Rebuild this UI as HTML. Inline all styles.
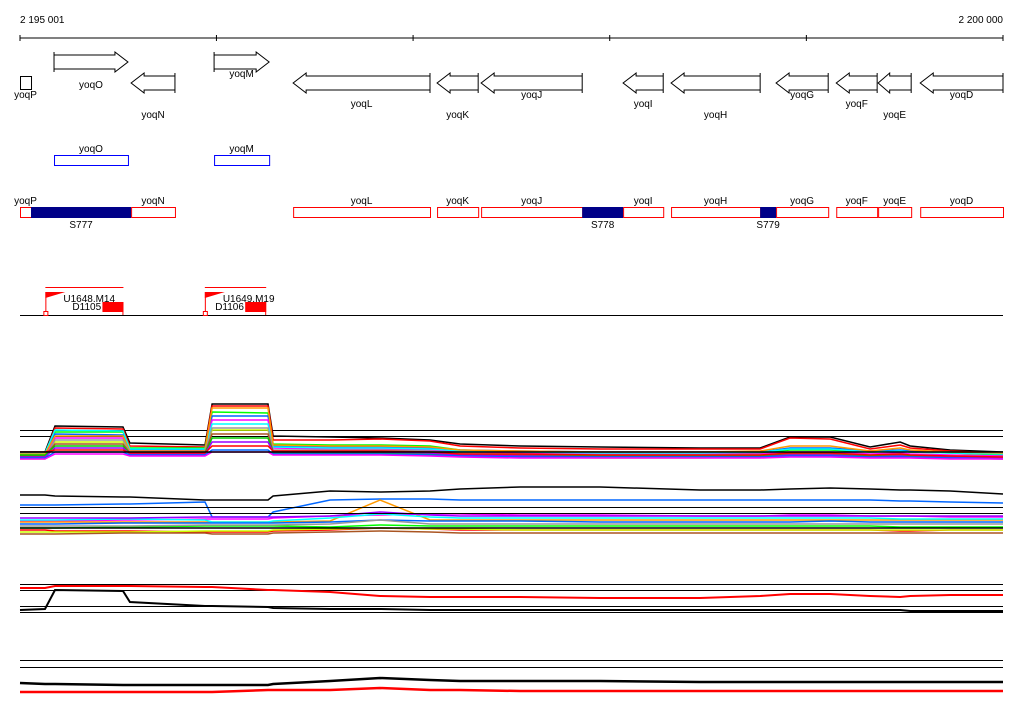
<!DOCTYPE html>
<html><head><meta charset="utf-8">
<style>
body{margin:0;background:#fff;}
svg{display:block;font-family:"Liberation Sans",sans-serif;font-size:10px;}
</style></head>
<body>
<svg id="c" width="1024" height="714" viewBox="0 0 1024 714">
<text x="20" y="23">2 195 001</text>
<text x="1003" y="23" text-anchor="end">2 200 000</text>
<g id="axis"></g>
<g id="genes"></g>
<g id="boxes"></g>
<g id="probes"></g>
<g id="profiles"></g>
</svg>
<script>
const NS="http://www.w3.org/2000/svg";
const START=2195001, END=2200000, X0=20, X1=1003;
const ticks=[2195001,2196000,2197000,2198000,2199000,2200000];
const geneNames=["yoqP","yoqO","yoqN","yoqM","yoqL","yoqK","yoqJ","yoqI","yoqH","yoqG","yoqF","yoqE","yoqD"];
const geneStart=[2195001,2195174,2195566,2195988,2196390,2197122,2197346,2198068,2198312,2198846,2199152,2199365,2199579];
const geneEnd=[2195057,2195550,2195789,2196268,2197086,2197331,2197860,2198272,2198765,2199111,2199360,2199533,2200000];
const geneStrand=[0,1,-1,1,-1,-1,-1,-1,-1,-1,-1,-1,-1];
const geneLabelY=[98,88,118,77,107,118,98,107,118,98,107,118,98];
const blueNames=["yoqO","yoqM"];
const redNames=["yoqP","yoqN","yoqL","yoqK","yoqJ","yoqI","yoqH","yoqG","yoqF","yoqE","yoqD"];
const segNames=["S777","S778","S779"];
const segStart=[2195057,2197860,2198765];
const segEnd=[2195566,2198068,2198846];
const pos=[2195001,2195128,2195179,2195525,2195560,2195942,2195978,2196262,2196288,2196578,2196832,2197086,2197239,2197544,2197951,2198459,2198765,2198917,2199121,2199324,2199477,2199528,2199731,2200000];
const band1=[
["#000",[8,8,34,33,17,15,56,56,24,23,22,20,16,14,13,12,12,23,23,13,18,14,10,8]],
["#f00",[6,6,32,31,14,13,54,54,20,20,21,19,14,12,11,11,11,22,21,11,15,12,9,7]],
["#0f0",[4,5,28,28,12,12,48,47,16,15,15,14,10,8,6,6,7,10,10,8,9,8,7,5]],
["#06f",[5,5,26,25,10,10,44,44,14,13,13,12,10,9,8,8,8,12,12,9,10,9,8,6]],
["#f0f",[3,3,22,22,9,9,40,40,12,11,11,10,8,7,6,6,6,8,8,6,7,6,5,4]],
["#0ff",[7,7,30,29,11,11,36,36,13,12,12,11,9,8,7,7,8,11,11,8,9,8,7,6]],
["#cf0",[1,1,18,18,6,6,30,30,9,9,9,8,5,3,2,2,3,4,4,3,4,3,2,1]],
["#f90",[6,6,24,24,9,9,52,52,15,14,14,13,10,9,8,8,9,14,14,9,12,10,8,7]],
["#999",[2,2,20,20,8,8,32,32,10,10,10,9,7,6,5,5,5,7,7,5,6,5,4,3]],
["#a52",[4,4,16,16,7,7,26,26,8,8,8,7,6,5,4,4,4,6,6,4,5,4,3,2]],
["#0c0",[5,5,14,14,6,6,22,22,7,7,7,6,5,4,4,4,4,5,5,4,4,4,3,2]],
["#90f",[3,3,12,12,6,6,18,18,8,8,8,7,5,4,3,3,3,5,5,3,4,3,3,2]],
["#f00",[8,8,10,10,7,7,14,14,9,9,9,8,6,6,5,5,5,7,7,5,6,5,4,3]],
["#06f",[2,2,8,8,5,5,10,10,6,6,6,5,4,3,3,3,3,4,4,3,3,3,2,1]],
["#f0f",[1,1,6,6,4,4,8,8,5,5,5,4,3,2,2,2,2,3,3,2,2,2,1,1]]];
const band2=[
["#000",[45,45,44,43,43,40,40,40,44,49,48,49,51,53,53,50,50,51,52,51,50,50,49,46]],
["#06f",[35,35,35,36,36,38,23,23,28,40,41,41,40,40,40,40,40,40,40,40,39,39,38,37]],
["#f0f",[19,19,19,20,20,21,21,21,22,24,25,26,26,25,25,24,24,25,25,24,24,24,23,23]],
["#f90",[18,18,18,18,18,18,18,18,18,19,40,20,20,20,20,20,20,20,20,20,20,20,20,20]],
["#0ff",[20,20,20,21,21,20,18,18,19,22,26,23,22,22,22,22,22,22,22,22,21,21,21,21]],
["#06f",[16,16,16,17,17,17,17,17,17,18,20,19,19,19,18,18,18,18,19,18,18,18,18,18]],
["#f00",[10,10,9,9,9,8,8,8,9,10,12,11,10,10,10,10,10,10,10,10,9,9,10,10]],
["#0f0",[12,12,12,13,13,14,14,14,14,13,15,14,14,14,14,14,14,14,14,14,13,13,13,13]],
["#999",[14,14,14,14,14,15,15,15,15,16,20,16,16,16,16,16,16,16,16,16,16,16,16,16]],
["#cf0",[8,8,8,8,8,9,9,9,10,11,12,11,11,10,10,10,10,10,10,10,10,10,10,10]],
["#a52",[6,6,6,7,7,7,6,6,7,8,9,8,7,7,7,7,7,7,7,7,7,7,7,7]],
["#90f",[22,22,22,22,22,23,23,23,23,24,28,25,24,24,24,24,24,24,24,24,24,24,24,24]]];
const band3=[
["#f00",[32,32,34,34,34,33,33,30,30,28,24,23,23,23,22,22,24,26,26,24,23,24,25,25]],
["#000",[10,11,30,29,18,14,14,13,12,11,11,10,10,10,10,10,10,10,10,10,10,9,9,9]]];
const band4=[
["#000",[17,16,16,15,15,15,15,15,16,19,22,20,19,19,19,18,18,18,18,18,18,18,18,18]],
["#f00",[8,8,8,8,8,8,8,10,10,10,12,10,10,9,9,9,9,9,9,9,9,9,9,9]]];

const sx=b=>X0+(b-START)/(END-START)*(X1-X0);
function mk(tag,at,parent){const e=document.createElementNS(NS,tag);for(const k in at)e.setAttribute(k,at[k]);parent.appendChild(e);return e;}
const ax=document.getElementById('axis');
let l=mk('line',{x1:X0,y1:38,x2:X1,y2:38,stroke:'#000'},ax);


ticks.forEach(t=>{const e=mk('line',{x1:sx(t),y1:35,x2:sx(t),y2:41,stroke:'#000'},ax);

});
const G=document.getElementById('genes');
geneNames.forEach((n,i)=>{
 const a=sx(geneStart[i]),b=sx(geneEnd[i]),s=geneStrand[i];let e;
 if(s===0){e=mk('rect',{x:a+0.5,y:76.5,width:b-a,height:13,fill:'none',stroke:'#000'},G);}
 else{const cy=s>0?62:83,h=Math.min(13,(b-a)*0.35);
  let d;
  if(s>0)d=`M${a},${cy-7}H${b-h}V${cy-10}L${b},${cy}L${b-h},${cy+10}V${cy+7}H${a}Z M${a},${cy-10}V${cy+10}`;
  else d=`M${b},${cy-7}H${a+h}V${cy-10}L${a},${cy}L${a+h},${cy+10}V${cy+7}H${b}Z M${b},${cy-10}V${cy+10}`;
  e=mk('path',{d:d,fill:'#fff',stroke:'#000'},G);}
 
 
 const t=mk('text',{x:(a+b)/2,y:geneLabelY[i],'text-anchor':'middle'},G);t.textContent=n;
 
 
});
const B=document.getElementById('boxes');
blueNames.forEach(n=>{const i=geneNames.indexOf(n),a=sx(geneStart[i]),b=sx(geneEnd[i]);
 const e=mk('rect',{x:a+0.5,y:155.5,width:b-a,height:10,fill:'none',stroke:'#00f'},B);
 
 
 const t=mk('text',{x:(a+b)/2,y:152,'text-anchor':'middle'},B);t.textContent=n;
 
 });
redNames.forEach(n=>{const i=geneNames.indexOf(n),a=sx(geneStart[i]),b=sx(geneEnd[i]);
 const e=mk('rect',{x:a+0.5,y:207.5,width:b-a,height:10,fill:'none',stroke:'#f00'},B);
 
 
 const t=mk('text',{x:(a+b)/2,y:204,'text-anchor':'middle'},B);t.textContent=n;
 
 });
segNames.forEach((n,i)=>{const a=sx(segStart[i]),b=sx(segEnd[i]);
 const e=mk('rect',{x:a,y:207,width:b-a,height:11,fill:'#008'},B);
 
 
 const t=mk('text',{x:(a+b)/2,y:228,'text-anchor':'middle'},B);t.textContent=n;
 
 });
const P=document.getElementById('probes');
const bl=mk('line',{x1:X0,y1:315.5,x2:X1,y2:315.5,stroke:'#000'},P);


const probeU=["U1648.M14","U1649.M19"],probeD=["D1105","D1106"],probeA=[2195130,2195941],probeB=[2195527,2196253];
probeU.forEach((u,i)=>{const a=sx(probeA[i]),b=sx(probeB[i]);
 const g=mk('g',{},P);
 
 
 mk('line',{x1:a,y1:287.5,x2:b,y2:287.5,stroke:'#f00'},g);
 mk('line',{x1:a+0.5,y1:292,x2:a+0.5,y2:315,stroke:'#f00'},g);
 mk('polygon',{points:`${a},292 ${a+20},292 ${a},298`,fill:'#f00'},g);
 mk('rect',{x:b-21,y:302,width:21,height:10,fill:'#f00'},g);
 mk('line',{x1:b-0.5,y1:302,x2:b-0.5,y2:315,stroke:'#f00'},g);
 mk('rect',{x:a-1.5,y:311.5,width:4,height:4,fill:'#fff',stroke:'#f00'},g);
 const t=mk('text',{x:a+18,y:302},g);t.textContent=u;
 const t2=mk('text',{x:b-51,y:310},g);t2.textContent=probeD[i];
});
const PR=document.getElementById('profiles');
function hl(y,w){const e=mk('line',{x1:X0,y1:y,x2:X1,y2:y,stroke:'#000','stroke-width':w||1},PR);
 
 }
function band(series,base,name,w){series.forEach((s,k)=>{
 const pts=pos.map((p,j)=>sx(p).toFixed(1)+','+(base-s[1][j])).join(' ');
 const e=mk('polyline',{points:pts,fill:'none',stroke:s[0],'stroke-width':w||1},PR);
 
 });}
hl(430.5);hl(436.5);
band(band1,460,'band1',1.5);
hl(452,1.5);
band(band2,540,'band2',1.5);
hl(507.5);hl(513.5);hl(528,1.5);
hl(584.5);hl(590.5);hl(606.5);hl(612.5);
band(band3,620,'band3',2);
hl(660.5);hl(667.5);
band(band4,700,'band4',2.5);
</script>
</body></html>
